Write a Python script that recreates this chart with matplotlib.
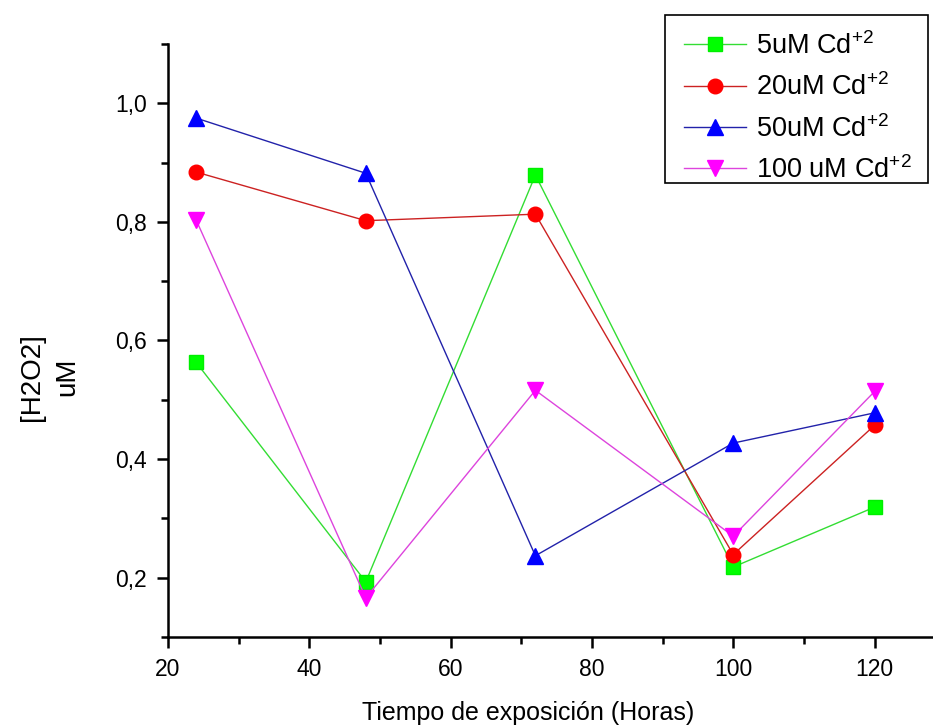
import matplotlib
matplotlib.use("Agg")
import matplotlib.pyplot as plt
from matplotlib.patches import Rectangle
from matplotlib.ticker import MultipleLocator, FuncFormatter

plt.rcParams['font.family'] = ['Liberation Sans', 'DejaVu Sans']
plt.rcParams['mathtext.fontset'] = 'custom'
plt.rcParams['mathtext.rm'] = 'Liberation Sans'
plt.rcParams['mathtext.it'] = 'Liberation Sans'

hours = [24, 48, 72, 100, 120]
cd5 = [0.563, 0.193, 0.879, 0.218, 0.319]
cd20 = [0.884, 0.802, 0.813, 0.239, 0.457]
cd50 = [0.975, 0.882, 0.237, 0.427, 0.478]
cd100 = [0.803, 0.166, 0.516, 0.270, 0.514]
labels = [r'5uM Cd$^{+2}$', r'20uM Cd$^{+2}$', r'50uM Cd$^{+2}$', r'100 uM Cd$^{+2}$']

fig = plt.figure(figsize=(9.33, 7.27), dpi=100)
ax = fig.add_axes([0.180, 0.1238, 0.821, 0.8157])

ax.plot(hours, cd5, color='#33dd33', lw=1.0, marker='s', ms=9.5,
        mfc='#00ff00', mec='#00ee00', label=labels[0])
ax.plot(hours, cd20, color='#cc2222', lw=1.0, marker='o', ms=10.5,
        mfc='#ff0000', mec='#ff0000', label=labels[1])
ax.plot(hours, cd50, color='#2222aa', lw=1.0, marker='^', ms=11.5,
        mfc='#0000ff', mec='#0000ff', label=labels[2])
ax.plot(hours, cd100, color='#dd44dd', lw=1.0, marker='v', ms=11.5,
        mfc='#ff00ff', mec='#ff00ff', label=labels[3])

ax.set_xlim(20, 128.4)
ax.set_ylim(0.1, 1.1)
ax.xaxis.set_major_locator(MultipleLocator(20))
ax.xaxis.set_minor_locator(MultipleLocator(10))
ax.yaxis.set_major_locator(MultipleLocator(0.2))
ax.yaxis.set_minor_locator(MultipleLocator(0.1))
ax.yaxis.set_major_formatter(FuncFormatter(lambda v, p: f"{v:.1f}".replace('.', ',')))

for s in ['top', 'right']:
    ax.spines[s].set_visible(False)
for s in ['left', 'bottom']:
    ax.spines[s].set_linewidth(1.8)
ax.tick_params(which='major', direction='out', length=8, width=1.8, labelsize=16.5, pad=7)
ax.tick_params(which='minor', direction='out', length=5, width=1.8)

ax.set_xlabel('Tiempo de exposición (Horas)', fontsize=18)
ax.xaxis.set_label_coords(0.470, -0.108)
ax.set_ylabel('[H2O2]\nuM', fontsize=20, linespacing=1.42)
ax.yaxis.set_label_coords(-0.115, 0.438)

leg = fig.legend(loc='upper left', bbox_to_anchor=(0.713, 0.982),
                 bbox_transform=fig.transFigure, fontsize=19.5, frameon=False,
                 handlelength=2.3, handletextpad=0.36, labelspacing=0.5,
                 borderpad=0.7, borderaxespad=0)
fig.add_artist(Rectangle((665 / 933, 1 - 183 / 727), 263 / 933, 168 / 727,
                         transform=fig.transFigure, fill=False,
                         edgecolor='black', linewidth=1.2))

fig.savefig('out.png', dpi=100)
